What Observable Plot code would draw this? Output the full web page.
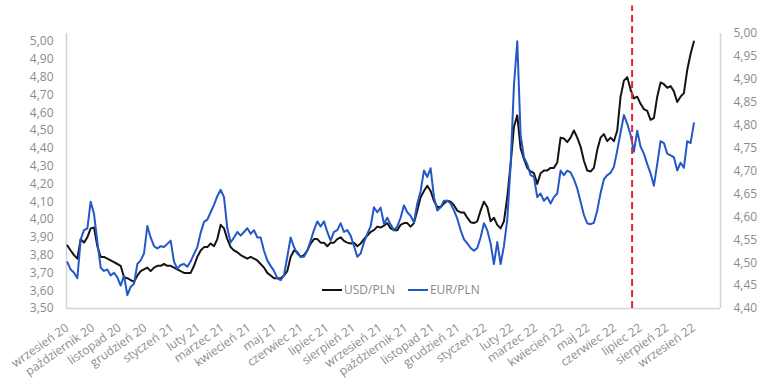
<!DOCTYPE html>
<html><head><meta charset="utf-8">
<script src="https://cdn.jsdelivr.net/npm/d3@7"></script>
<script src="https://cdn.jsdelivr.net/npm/@observablehq/plot@0.6"></script>
<style>
body{margin:0;background:#fff;font-family:"Open Sans",sans-serif;}
#wrap{position:relative;width:759px;height:385px;overflow:hidden;}
#legend{position:absolute;left:322px;top:281px;font-size:12px;color:#8a8a8a;display:flex;align-items:center;white-space:nowrap;}
.sw{display:inline-block;width:20px;height:2px;margin-right:2px;}
.it{display:flex;align-items:center;margin-right:13px;}
</style></head><body>
<div id="wrap"><div id="legend"></div></div>
<script>
const FIRST_DATE = new Date(2020, 8, 28);
const LAST_DATE = new Date(2022, 8, 28);
const X_START = new Date(2020, 8, 27);
const X_END = new Date(2022, 9, 29);
const MARKER_DATE = new Date(2022, 6, 18);

const seriesNames = ["USD/PLN", "EUR/PLN"];

const usdPln = [3.854,3.826,3.80,3.78,3.89,3.87,3.90,3.95,3.955,3.85,
3.79,3.79,3.78,3.77,3.76,3.75,3.74,3.676,3.67,3.66,
3.65,3.685,3.71,3.72,3.73,3.71,3.73,3.74,3.74,3.75,
3.74,3.74,3.73,3.72,3.71,3.70,3.70,3.70,3.74,3.79,
3.826,3.845,3.845,3.865,3.85,3.89,3.97,3.95,3.89,3.845,
3.826,3.816,3.80,3.79,3.78,3.79,3.78,3.77,3.75,3.73,
3.70,3.685,3.67,3.67,3.67,3.685,3.71,3.79,3.826,3.816,
3.79,3.80,3.826,3.865,3.89,3.89,3.87,3.87,3.85,3.87,
3.87,3.89,3.90,3.88,3.87,3.865,3.87,3.85,3.865,3.89,
3.91,3.93,3.94,3.96,3.955,3.965,3.98,3.95,3.94,3.94,
3.97,3.98,3.98,3.96,3.98,4.05,4.125,4.16,4.19,4.16,
4.105,4.07,4.07,4.09,4.105,4.10,4.08,4.05,4.04,4.04,
4.01,3.985,3.98,3.99,4.05,4.10,4.07,3.99,4.01,3.97,
3.95,3.99,4.125,4.31,4.52,4.585,4.40,4.34,4.29,4.27,
4.26,4.20,4.26,4.275,4.275,4.29,4.29,4.32,4.46,4.455,
4.435,4.46,4.50,4.46,4.41,4.33,4.275,4.27,4.29,4.39,
4.46,4.48,4.44,4.46,4.44,4.50,4.69,4.78,4.80,4.73,
4.68,4.69,4.65,4.62,4.61,4.56,4.57,4.69,4.77,4.76,
4.74,4.75,4.72,4.66,4.69,4.71,4.84,4.93,5.00];

const eurPln = [4.501,4.485,4.478,4.466,4.551,4.571,4.575,4.633,4.606,4.546,
4.489,4.482,4.485,4.472,4.478,4.468,4.450,4.472,4.429,4.447,
4.454,4.497,4.505,4.520,4.580,4.555,4.536,4.531,4.536,4.534,
4.541,4.548,4.502,4.487,4.495,4.497,4.491,4.503,4.519,4.534,
4.565,4.589,4.594,4.610,4.626,4.645,4.659,4.643,4.575,4.544,
4.555,4.567,4.559,4.567,4.575,4.563,4.571,4.555,4.555,4.526,
4.505,4.493,4.482,4.466,4.462,4.472,4.513,4.555,4.534,4.520,
4.513,4.513,4.526,4.548,4.571,4.590,4.579,4.590,4.567,4.548,
4.567,4.571,4.586,4.567,4.571,4.559,4.536,4.513,4.520,4.544,
4.563,4.579,4.621,4.610,4.620,4.585,4.598,4.583,4.571,4.579,
4.598,4.625,4.610,4.602,4.588,4.629,4.656,4.701,4.687,4.706,
4.643,4.614,4.621,4.635,4.635,4.629,4.614,4.596,4.571,4.551,
4.542,4.532,4.526,4.532,4.555,4.586,4.571,4.542,4.497,4.545,
4.497,4.536,4.594,4.711,4.886,4.983,4.779,4.730,4.715,4.691,
4.687,4.643,4.651,4.635,4.643,4.629,4.643,4.651,4.701,4.691,
4.701,4.697,4.682,4.662,4.633,4.604,4.586,4.584,4.587,4.614,
4.652,4.682,4.691,4.696,4.709,4.745,4.784,4.822,4.803,4.779,
4.742,4.788,4.753,4.738,4.715,4.695,4.668,4.715,4.765,4.761,
4.738,4.734,4.730,4.701,4.718,4.707,4.765,4.761,4.804];

const monthLabels = ["wrzesień 20","październik 20","listopad 20","grudzień 20","styczeń 21","luty 21","marzec 21","kwiecień 21","maj 21","czerwiec 21","lipiec 21","sierpień 21","wrzesień 21","październik 21","listopad 21","grudzień 21","styczeń 22","luty 22","marzec 22","kwiecień 22","maj 22","czerwiec 22","lipiec 22","sierpień 22","wrzesień 22"];

const leftTicks = [3.5,3.6,3.7,3.8,3.9,4.0,4.1,4.2,4.3,4.4,4.5,4.6,4.7,4.8,4.9,5.0];
const rightTicks = [4.40,4.45,4.50,4.55,4.60,4.65,4.70,4.75,4.80,4.85,4.90,4.95,5.00];
const LEFT_DOMAIN = [3.5, 5.045];
const RIGHT_DOMAIN = [4.4, 5.0];

const n = usdPln.length;
const step = (LAST_DATE - FIRST_DATE) / (n - 1);
const dates = d3.range(n).map(i => new Date(+FIRST_DATE + i * step));
const usdData = usdPln.map((v, i) => ({date: dates[i], v}));
const eurData = eurPln.map((v, i) => ({date: dates[i], v}));
const toLeft = d3.scaleLinear(RIGHT_DOMAIN, LEFT_DOMAIN);
const tickDates = monthLabels.map((_, k) => new Date(2020, 8 + k, 28));
const fmt = v => d3.format(".2f")(v).replace(".", ",");
const labelFor = d => monthLabels[(d.getFullYear() - 2020) * 12 + d.getMonth() - 8];

const gray = "#8c8c8c";
const axisLine = "#d4d4d4";
const usdColor = "#141414";
const eurColor = "#2458c6";

const chart = Plot.plot({
  width: 759, height: 385,
  marginLeft: 66, marginRight: 39, marginTop: 33, marginBottom: 77,
  style: {fontFamily: "Open Sans, sans-serif", fontSize: "12px", color: gray, background: "#fff"},
  x: {type: "time", domain: [X_START, X_END]},
  y: {domain: LEFT_DOMAIN},
  marks: [
    Plot.ruleY([LEFT_DOMAIN[0]], {stroke: axisLine, strokeWidth: 1.5}),
    Plot.ruleX([X_START, X_END], {y1: LEFT_DOMAIN[0], y2: LEFT_DOMAIN[1], stroke: axisLine, strokeWidth: 1.5}),
    Plot.axisY({anchor: "left", ticks: leftTicks, tickFormat: fmt, tickSize: 0, tickPadding: 13, label: null, fill: gray, fontSize: 12}),
    Plot.axisY({anchor: "right", ticks: rightTicks.map(toLeft), tickFormat: d => fmt(toLeft.invert(d)), tickSize: 0, tickPadding: 13, label: null, fill: gray, fontSize: 12}),
    Plot.axisX({ticks: tickDates, tickFormat: labelFor, tickRotate: -35, tickSize: 0, tickPadding: 18, dx: 0, label: null, fill: gray, fontSize: 12}),
    Plot.line(usdData, {x: "date", y: "v", stroke: usdColor, strokeWidth: 2}),
    Plot.line(eurData, {x: "date", y: d => toLeft(d.v), stroke: eurColor, strokeWidth: 2}),
    Plot.ruleX([MARKER_DATE], {y1: LEFT_DOMAIN[0], y2: 5.2, stroke: "#e3262b", strokeWidth: 2, strokeDasharray: "7,4"})
  ]
});
const wrap = document.getElementById("wrap");
wrap.insertBefore(chart, wrap.firstChild);
const legend = document.getElementById("legend");
[[seriesNames[0], usdColor], [seriesNames[1], eurColor]].forEach(([name, c]) => {
  const it = document.createElement("span");
  it.className = "it";
  it.innerHTML = `<span class="sw" style="background:${c}"></span><span>${name}</span>`;
  legend.appendChild(it);
});
</script>
</body></html>
